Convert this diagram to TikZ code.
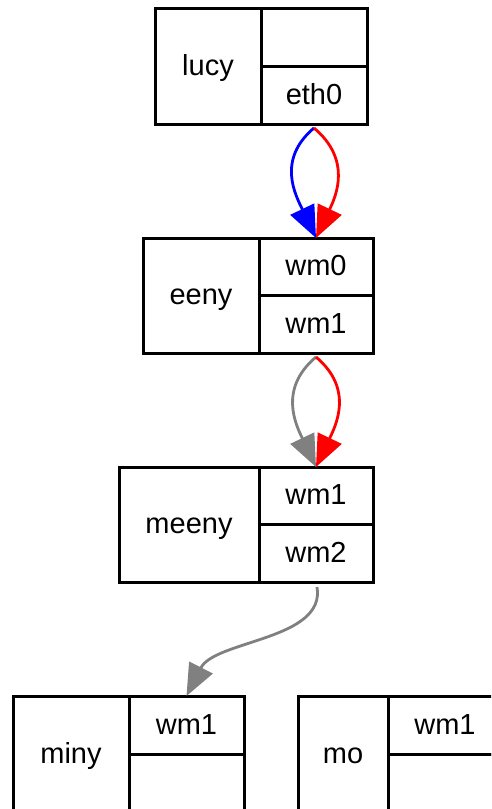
\documentclass[tikz,border=0pt]{standalone}
\usepackage{fontspec}
\setmainfont{Liberation Sans}
\usetikzlibrary{arrows.meta}
\definecolor{edgegray}{RGB}{128,128,128}
\begin{document}
\begin{tikzpicture}[x=1pt,y=-1pt,
  cell/.style={draw, line width=3pt, rectangle, inner sep=0pt, outer sep=0pt,
    anchor=north west, font=\fontsize{29}{34}\selectfont,
    text height=22pt, text depth=4pt},
  link/.style={line width=2.8pt, -{Triangle[length=32pt 0, width=26pt 0]}},
]
\fill[white] (0,0) rectangle (491,809);
\useasboundingbox (0,0) rectangle (491,809);
\clip (0,0) rectangle (491,809);

% lucy
\node[cell, minimum width=106pt, minimum height=116pt] (lucy) at (155,8) {lucy};
\node[cell, minimum width=106pt, minimum height=58pt] (lucytop) at (261,8) {};
\node[cell, minimum width=106pt, minimum height=58pt] (lucyeth0) at (261,66) {eth0};

% eeny
\node[cell, minimum width=116pt, minimum height=115pt] (eeny) at (143,238) {eeny};
\node[cell, minimum width=114pt, minimum height=57.5pt] (eenywm0) at (259,238) {wm0};
\node[cell, minimum width=114pt, minimum height=57.5pt] (eenywm1) at (259,295.5) {wm1};

% meeny
\node[cell, minimum width=140pt, minimum height=115pt] (meeny) at (119,467) {meeny};
\node[cell, minimum width=114pt, minimum height=57.5pt] (meenywm1) at (259,467) {wm1};
\node[cell, minimum width=114pt, minimum height=57.5pt] (meenywm2) at (259,524.5) {wm2};

% miny
\node[cell, minimum width=116pt, minimum height=116pt] (miny) at (13,696) {miny};
\node[cell, minimum width=115pt, minimum height=58pt] (minywm1) at (129,696) {wm1};
\node[cell, minimum width=115pt, minimum height=58pt] (minylow) at (129,754) {};

% mo
\node[cell, minimum width=90pt, minimum height=116pt] (mo) at (298,696) {mo};
\node[cell, minimum width=114pt, minimum height=58pt] (mowm1) at (388,696) {wm1};
\node[cell, minimum width=114pt, minimum height=58pt] (molow) at (388,754) {};

% links
\draw[link, blue] ([yshift=-4pt]lucyeth0.south) .. controls +(-38,32) and +(-20,-42) .. (eenywm0.north);
\draw[link, red] ([yshift=-4pt]lucyeth0.south) .. controls +(38,32) and +(20,-42) .. (eenywm0.north);
\draw[link, edgegray] ([yshift=-4pt]eenywm1.south) .. controls +(-38,32) and +(-20,-42) .. (meenywm1.north);
\draw[link, red] ([yshift=-4pt]eenywm1.south) .. controls +(38,32) and +(20,-42) .. (meenywm1.north);
\draw[link, edgegray] ([xshift=1pt,yshift=-5pt]meenywm2.south) .. controls +(9,53) and +(28.5,-56) .. (minywm1.north);
\end{tikzpicture}
\end{document}
